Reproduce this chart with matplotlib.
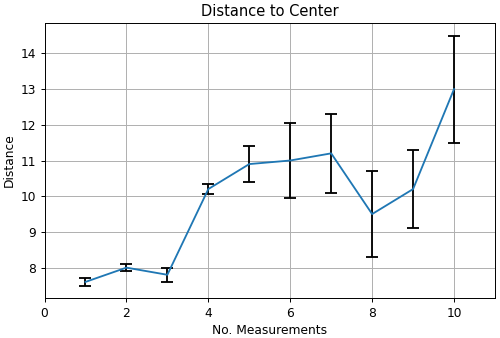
import numpy as np
import matplotlib
matplotlib.use("Agg")
import matplotlib.pyplot as plt

n_meas = [1, 2, 3, 4, 5, 6, 7, 8, 9, 10]
distance = [7.6, 8.0, 7.8, 10.2, 10.9, 11.0, 11.2, 9.5, 10.2, 13.0]
err = [0.1, 0.1, 0.2, 0.15, 0.5, 1.05, 1.1, 1.2, 1.1, 1.5]

DPI = 88
fig = plt.figure(figsize=(500 / DPI, 338 / DPI), dpi=DPI)
ax = fig.add_axes([44.5 / 500, 40 / 338, 450.5 / 500, 275 / 338])
ax.errorbar(n_meas, distance, yerr=err, color="#1f77b4", ecolor="black",
            elinewidth=1.5, capsize=5, capthick=1.5, lw=1.5)
ax.set_xlim(0, 11)
ax.set_xticks([0, 2, 4, 6, 8, 10])
ax.grid(True)
ax.set_title("Distance to Center")
ax.set_xlabel("No. Measurements")
ax.set_ylabel("Distance")
fig.savefig("out.png", dpi=DPI)
